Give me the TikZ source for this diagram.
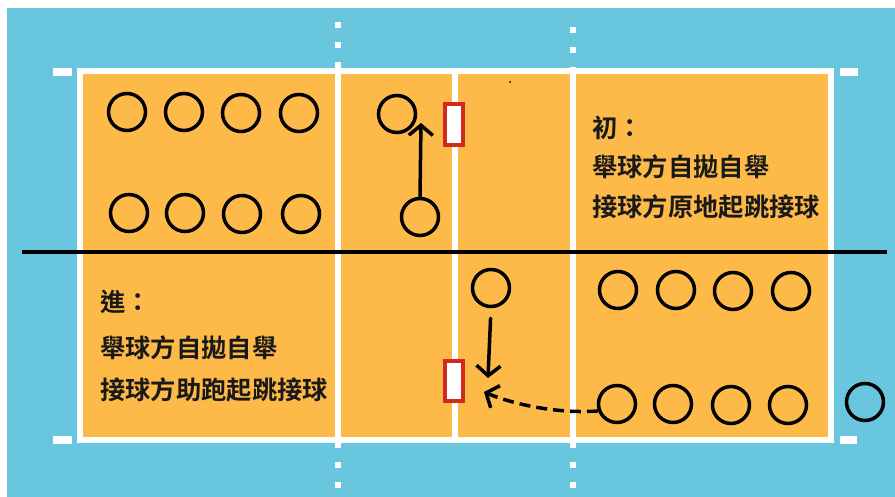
\documentclass[tikz,border=0pt]{standalone}
\usepackage{fontspec}
\usepackage{tikz}
\usetikzlibrary{arrows.meta}
\newfontfamily\cjk{Noto Sans CJK TC Bold}
\definecolor{courtblue}{RGB}{104,198,222}
\definecolor{courtorange}{RGB}{253,186,72}
\definecolor{netred}{RGB}{212,42,30}

\begin{document}
\begin{tikzpicture}[x=1pt, y=-1pt]
    % Styles
    \tikzstyle{player} = [circle, draw=black, line width=3.5pt, minimum size=37pt, inner sep=0pt]
    \tikzstyle{courtline} = [white, line width=6.5pt]
    \tikzstyle{ext} = [white, line width=6pt, dash pattern=on 6pt off 14pt]
    \tikzstyle{move} = [-{Straight Barb[length=10pt, width=24pt]}, line width=3.5pt, line cap=round]
    \tikzstyle{note} = [anchor=west, inner sep=0pt, font=\cjk\fontsize{25.3}{27}\selectfont, text=black!90]

    % Background and court
    \useasboundingbox (0,0) rectangle (895,497);
    \fill[white] (0,0) rectangle (895,497);
    \fill[courtblue] (7,8) rectangle (895,497);
    \fill[courtorange] (80,71) rectangle (831,440);
    \draw[courtline] (80,71) rectangle (831,440);
    \draw[courtline] (338,71) -- (338,440);
    \draw[courtline] (455,71) -- (455,440);
    \draw[courtline] (573,71) -- (573,440);
    \draw[ext] (338,22) -- (338,71);
    \draw[ext] (338,488) -- (338,440);
    \draw[ext] (573,27) -- (573,71);
    \draw[ext] (573,488) -- (573,440);
    \fill[white] (53,68) rectangle (72,76);
    \fill[white] (53,436) rectangle (72,444);
    \fill[white] (840,68) rectangle (858,76);
    \fill[white] (840,436) rectangle (857,444);
    \fill[black] (510,82) circle (1pt);

    % Net posts
    \draw[netred, fill=white, line width=3.5pt] (445,104) rectangle (463,145);
    \draw[netred, fill=white, line width=3.5pt] (445,361) rectangle (463,401);

    % Middle line
    \draw[black, line width=3.5pt] (22,252) -- (887,252);

    % Players - left side
    \node[player] (L1a) at (127,112) {};
    \node[player] (L1b) at (184,112) {};
    \node[player] (L1c) at (241,113) {};
    \node[player] (L1d) at (299,113) {};
    \node[player] (L2a) at (129,213) {};
    \node[player] (L2b) at (185,213) {};
    \node[player] (L2c) at (242,214) {};
    \node[player] (L2d) at (301,214) {};
    \node[player] (M1) at (397,114) {};
    \node[player] (M2) at (420,217) {};

    % Players - right side
    \node[player] (M3) at (491,288) {};
    \node[player] (R1a) at (618,290) {};
    \node[player] (R1b) at (676,290) {};
    \node[player] (R1c) at (733,291) {};
    \node[player] (R1d) at (791,291) {};
    \node[player] (R2a) at (617,404) {};
    \node[player] (R2b) at (673,404) {};
    \node[player] (R2c) at (731,405) {};
    \node[player] (R2d) at (788,405) {};
    \node[player] (R3) at (865,402) {};

    % Arrows
    \coordinate (tipA) at (421,123);
    \coordinate (tipB) at (488,378);
    \coordinate (tipC) at (484,392);
    \draw[move] (M2.north) -- (tipA);
    \draw[move, shorten <=10pt] (M3.south) -- (tipB);
    \draw[move, dash pattern=on 11pt off 6pt, line cap=butt] (R2a.200) .. controls (560,414) and (515,405) .. (tipC);

    % Notes
    \node[note] (T1) at (592,128) {初：};
    \node[note] (T2) at (592,167) {舉球方自拋自舉};
    \node[note] (T3) at (592,207) {接球方原地起跳接球};
    \node[note] (T4) at (100,302) {進：};
    \node[note] (T5) at (100,348) {舉球方自拋自舉};
    \node[note] (T6) at (100,390) {接球方助跑起跳接球};
\end{tikzpicture}
\end{document}
